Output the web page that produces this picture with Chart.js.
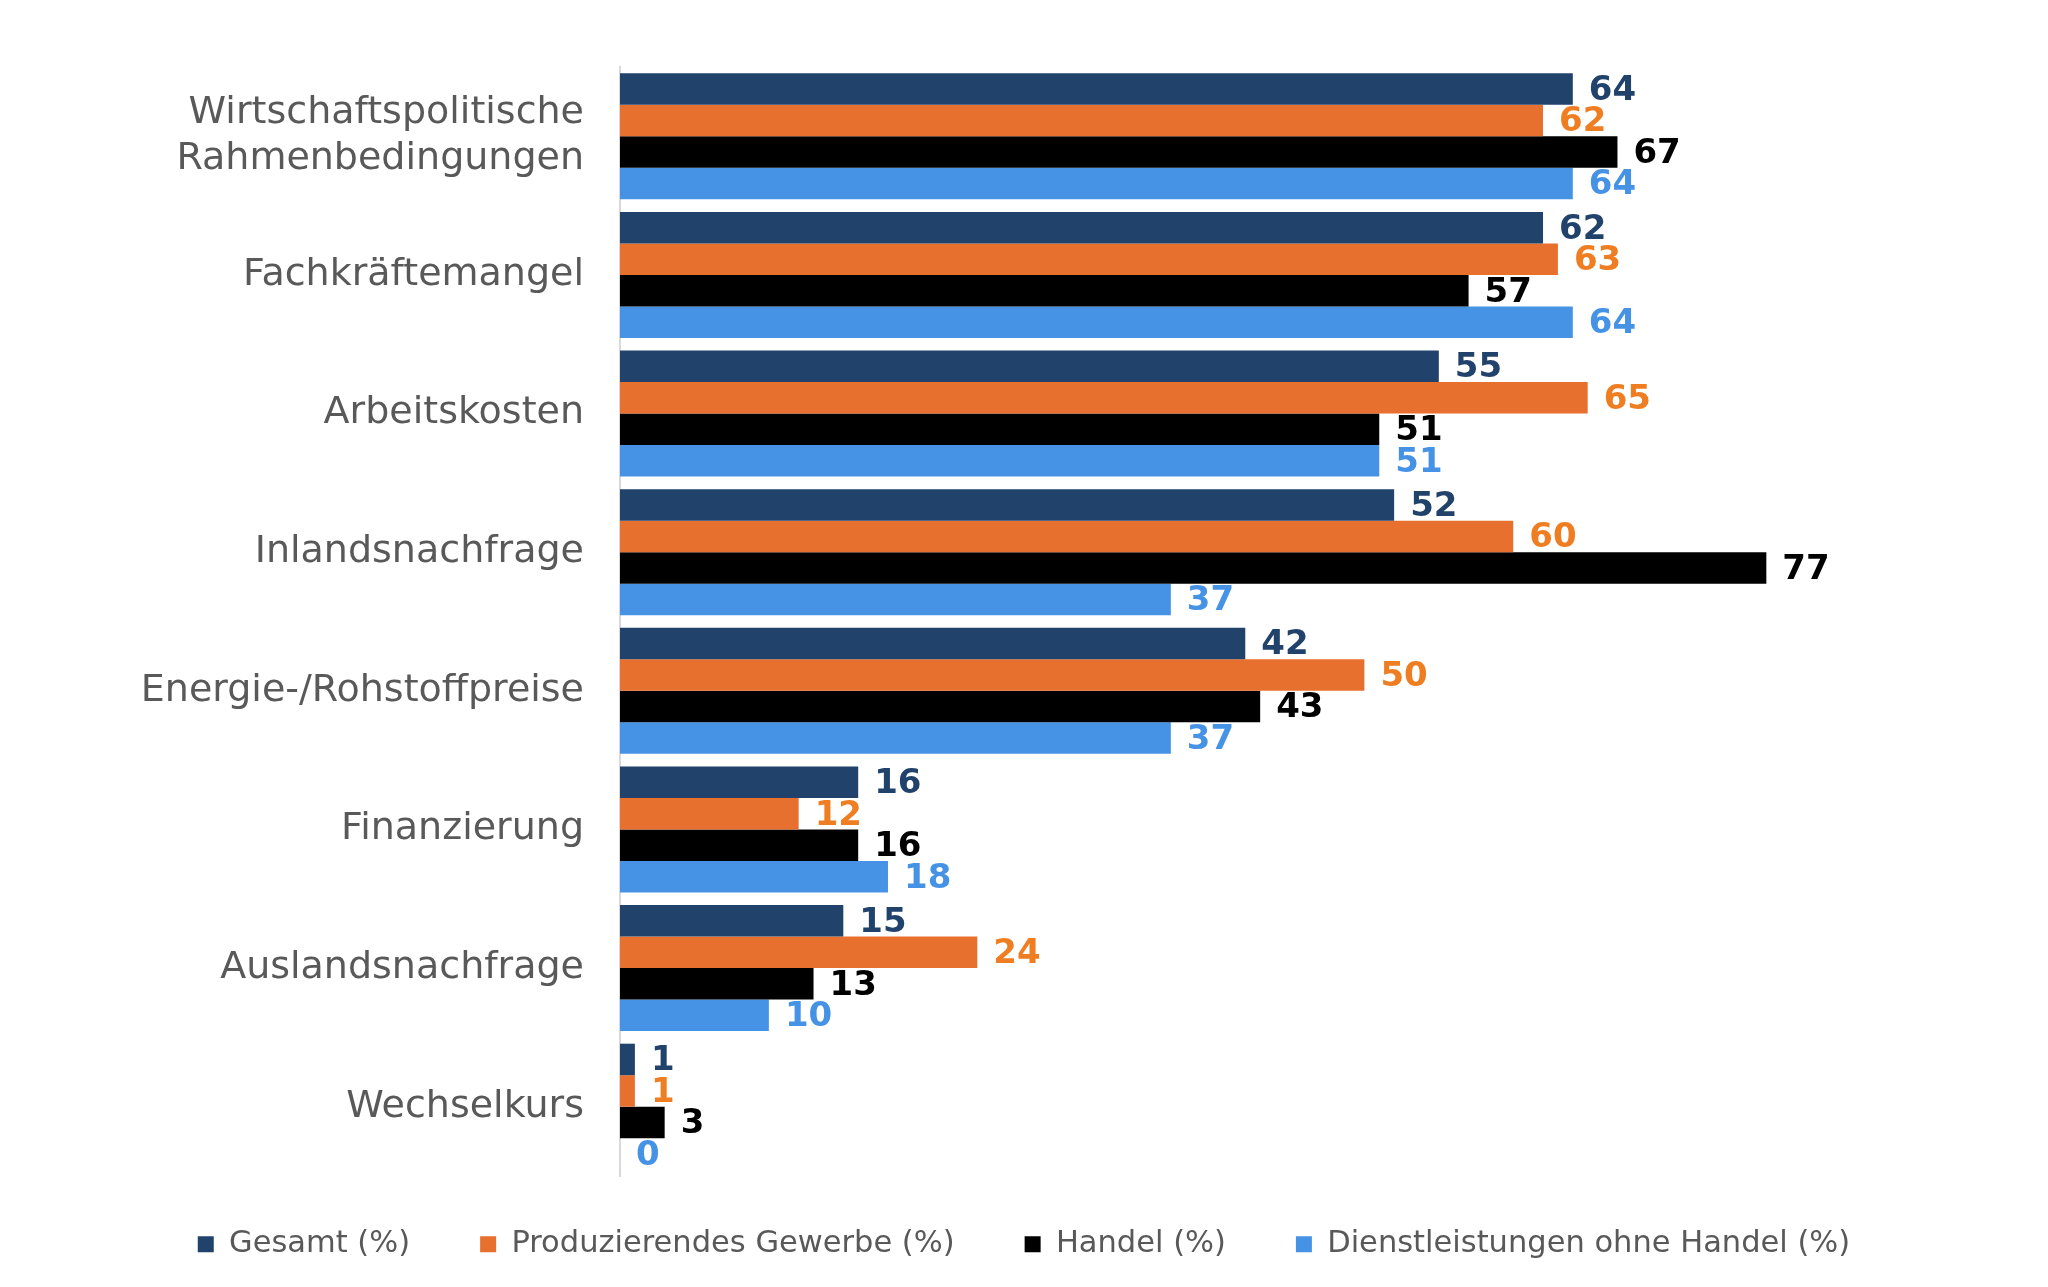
<!DOCTYPE html>
<html>
<head>
<meta charset="utf-8">
<script src="https://cdn.jsdelivr.net/npm/chart.js@4.4.1/dist/chart.umd.min.js"></script>
<style>
html,body{margin:0;padding:0;background:#fff;}
#wrap{width:2048px;height:1287px;position:relative;}
</style>
</head>
<body>
<div id="wrap"><canvas id="c" width="2048" height="1287"></canvas></div>
<script>
const categories = [
  ['Wirtschaftspolitische', 'Rahmenbedingungen'],
  'Fachkräftemangel',
  'Arbeitskosten',
  'Inlandsnachfrage',
  'Energie-/Rohstoffpreise',
  'Finanzierung',
  'Auslandsnachfrage',
  'Wechselkurs'
];
const seriesNames = ['Gesamt (%)', 'Produzierendes Gewerbe (%)', 'Handel (%)', 'Dienstleistungen ohne Handel (%)'];
const gesamt = [64, 62, 55, 52, 42, 16, 15, 1];
const produzierend = [62, 63, 65, 60, 50, 12, 24, 1];
const handel = [67, 57, 51, 77, 43, 16, 13, 3];
const dienstleistungen = [64, 64, 51, 37, 37, 18, 10, 0];

const barColors = ['#21426B', '#E8702F', '#000000', '#4693E5'];
const labelColors = ['#21426B', '#EF7E22', '#000000', '#4693E5'];
const FONT = "'DejaVu Sans', sans-serif";
const RIGHT_PAD = 237;

const valueLabels = {
  id: 'valueLabels',
  afterDatasetsDraw(chart) {
    const ctx = chart.ctx;
    ctx.save();
    ctx.font = 'bold 34px ' + FONT;
    ctx.textAlign = 'left';
    ctx.textBaseline = 'middle';
    chart.data.datasets.forEach((ds, di) => {
      const meta = chart.getDatasetMeta(di);
      ctx.fillStyle = labelColors[di];
      meta.data.forEach((bar, i) => {
        ctx.fillText(String(ds.data[i]), bar.x + 16, bar.y + 2);
      });
    });
    ctx.restore();
  }
};

const legendTweak = {
  id: 'legendTweak',
  afterInit(chart) {
    const lg = chart.legend;
    if (!lg) return;
    const origFit = lg.fit.bind(lg);
    lg.fit = function() { origFit(); this.height = 111; };
    const origDraw = lg.draw.bind(lg);
    lg.draw = function() {
      const ctx = chart.ctx;
      ctx.save();
      ctx.translate(RIGHT_PAD / 2, -17);
      origDraw();
      ctx.restore();
    };
  }
};

new Chart(document.getElementById('c'), {
  type: 'bar',
  data: {
    labels: categories,
    datasets: [gesamt, produzierend, handel, dienstleistungen].map((d, i) => ({
      label: seriesNames[i],
      data: d,
      backgroundColor: barColors[i],
      borderWidth: 0,
      barPercentage: 1,
      categoryPercentage: 0.909
    }))
  },
  options: {
    indexAxis: 'y',
    responsive: false,
    animation: false,
    layout: { padding: { left: 0, right: RIGHT_PAD, top: 67, bottom: 0 } },
    scales: {
      x: { display: false, min: 0, max: 80 },
      y: {
        grid: { display: false, drawTicks: false },
        border: { display: true, color: '#D9D9D9', width: 2 },
        ticks: {
          color: '#595959',
          padding: 36,
          font: { family: FONT, size: 38, lineHeight: 1.22 }
        },
        afterFit(scale) { scale.width = 620; }
      }
    },
    plugins: {
      tooltip: { enabled: false },
      legend: {
        position: 'bottom',
        labels: {
          color: '#595959',
          boxWidth: 16,
          boxHeight: 16,
          padding: 70,
          font: { family: FONT, size: 30.5 }
        }
      }
    }
  },
  plugins: [valueLabels, legendTweak]
});
</script>
</body>
</html>
